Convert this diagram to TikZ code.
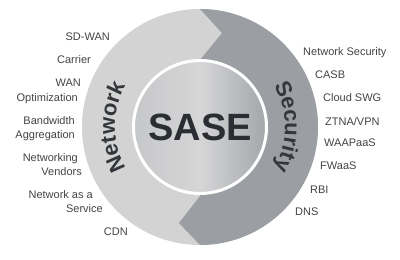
\documentclass[tikz,border=0pt]{standalone}
\usepackage{fontspec}
\setmainfont{Liberation Sans}
\usetikzlibrary{decorations.text,calc}
\definecolor{ringlight}{HTML}{D3D3D3}
\definecolor{ringdark}{HTML}{9B9EA3}
\definecolor{innerL}{HTML}{C6C7C9}
\definecolor{innerM}{HTML}{D6D6D7}
\definecolor{innerR}{HTML}{A3A6AA}
\definecolor{labeltext}{HTML}{444444}
\definecolor{ringtext}{HTML}{33373B}
\definecolor{sasetext}{HTML}{2A2E32}
\newcommand\ringfont{\fontsize{22}{22}\selectfont\bfseries}
\begin{document}
\begin{tikzpicture}[x=1pt,y=1pt,
  lbl/.style={font=\fontsize{11}{12}\selectfont, text=labeltext, inner sep=0pt},
  lleft/.style={lbl, anchor=mid east},
  lright/.style={lbl, anchor=mid west}]
\useasboundingbox (0,0) rectangle (400,260);
\fill[white] (0,0) rectangle (400,260);
\coordinate (C) at (200,133);
% outer ring
\fill[ringlight] (C) circle[radius=118];
\begin{scope}
  \clip (C) circle[radius=118];
  \fill[ringdark] ($(C)+(0,130)$) -- ($(C)+(0,118)$) -- ($(C)+(22,94)$) -- ($(C)+(0,67)$)
    -- ($(C)+(0,-69)$) -- ($(C)+(-21,-96)$) -- ($(C)+(0,-118)$) -- ($(C)+(0,-130)$)
    -- ($(C)+(130,-130)$) -- ($(C)+(130,130)$) -- cycle;
\end{scope}
% inner circle
\fill[left color=innerL, right color=innerR, middle color=innerM] (C) circle[radius=66.5];
\draw[white, line width=3pt] (C) circle[radius=66.5];
\node[font=\fontsize{38}{38}\selectfont\bfseries, text=sasetext] (sase) at ($(C)+(0,0)$) {SASE};
% ring texts
\path[decorate, decoration={text along path, text align=center, text color=ringtext,
  text={|\ringfont|Network}}]
  ($(C)+(215:85)$) arc[start angle=215, end angle=145, radius=85];
\path[decorate, decoration={text along path, text align=center, text color=ringtext,
  text={|\ringfont|Security}}]
  ($(C)+(35:85)$) arc[start angle=35, end angle=-35, radius=85];
% left labels
\node[lleft] (sdwan) at (110,222) {SD-WAN};
\node[lleft] (carrier) at (91,199) {Carrier};
\node[lleft] (wan1) at (81,176) {WAN};
\node[lleft] (wan2) at (78,161) {Optimization};
\node[lleft] (bw1) at (75,138) {Bandwidth};
\node[lleft] (bw2) at (75,124) {Aggregation};
\node[lleft] (nv1) at (78,101) {Networking};
\node[lleft] (nv2) at (82,87) {Vendors};
\node[lleft] (naas1) at (93,64) {Network as a};
\node[lleft] (naas2) at (103,50) {Service};
\node[lleft] (cdn) at (128,27) {CDN};
% right labels
\node[lright] (netsec) at (303,207) {Network Security};
\node[lright] (casb) at (315,184) {CASB};
\node[lright] (swg) at (323,161) {Cloud SWG};
\node[lright] (ztna) at (325,137) {ZTNA/VPN};
\node[lright] (waap) at (324,116) {WAAPaaS};
\node[lright] (fwaas) at (320,93) {FWaaS};
\node[lright] (rbi) at (310,69) {RBI};
\node[lright] (dns) at (295,47) {DNS};
\end{tikzpicture}
\end{document}
